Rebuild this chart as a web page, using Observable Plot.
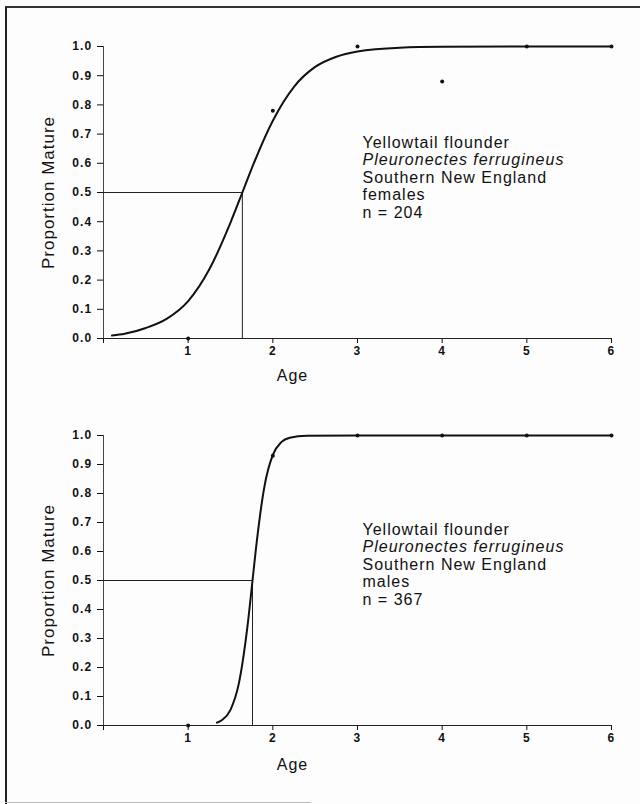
<!DOCTYPE html>
<html>
<head>
<meta charset="utf-8">
<script src="https://cdn.jsdelivr.net/npm/d3@7"></script>
<script src="https://cdn.jsdelivr.net/npm/@observablehq/plot@0.6"></script>
<style>
  html, body { margin: 0; padding: 0; background: #fdfdfd; }
  body { width: 640px; height: 804px; position: relative; overflow: hidden; font-family: "Liberation Sans", Arial, sans-serif; }
  #frame { position: absolute; left: 5px; top: 6px; width: 640px; height: 796px; border-left: 2px solid #222; border-top: 2px solid #333; }
  #bottomline { position: absolute; left: 5px; top: 802px; width: 306px; height: 0; border-top: 1px solid #bbb; }
  #top, #bottom { position: absolute; left: 0; }
  #top { top: 0; }
  #bottom { top: 390px; }
  svg text { letter-spacing: 1px; }
  svg g[aria-label$="tick label"], svg g[aria-label$="tick label"] text { font-size: 12px !important; font-weight: bold; letter-spacing: 1.2px; }
</style>
</head>
<body>
<div id="frame"></div>
<div id="bottomline"></div>
<div id="top"></div>
<div id="bottom"></div>
<script>
// ---- data ----
const ages = [1, 2, 3, 4, 5, 6];
const femaleObserved = [0.0, 0.78, 1.0, 0.88, 1.0, 1.0];
const maleObserved = [0.0, 0.93, 1.0, 1.0, 1.0, 1.0];

const femaleCurveAge = [0.1, 0.25, 0.5, 0.75, 1.0, 1.25, 1.5, 1.64, 1.75, 2.0, 2.25, 2.5, 2.75, 3.0, 3.5, 4.0, 5.0, 6.0];
const femaleCurveP   = [0.010, 0.016, 0.036, 0.068, 0.128, 0.237, 0.397, 0.5, 0.582, 0.746, 0.862, 0.930, 0.965, 0.983, 0.996, 0.999, 1.0, 1.0];

const maleCurveAge = [1.34, 1.4, 1.5, 1.6, 1.7, 1.76, 1.8, 1.9, 2.0, 2.1, 2.2, 2.4, 3.0, 4.0, 5.0, 6.0];
const maleCurveP   = [0.010, 0.019, 0.054, 0.147, 0.341, 0.5, 0.608, 0.823, 0.933, 0.977, 0.992, 0.999, 1.0, 1.0, 1.0, 1.0];

const femaleA50 = 1.64;
const maleA50 = 1.76;

const xTicks = [0, 1, 2, 3, 4, 5, 6];
const yTicks = [0, 0.1, 0.2, 0.3, 0.4, 0.5, 0.6, 0.7, 0.8, 0.9, 1.0];
const xLabel = "Age";
const yLabel = "Proportion Mature";

const femaleNote = ["Yellowtail flounder", "Pleuronectes ferrugineus", "Southern New England", "females", "n = 204"];
const maleNote   = ["Yellowtail flounder", "Pleuronectes ferrugineus", "Southern New England", "males", "n = 367"];
const noteItalic = [false, true, false, false, false];

// ---- chart builder ----
function makeChart({observed, curveAge, curveP, a50, note, height, marginTop, marginBottom, noteDy, ageDy}) {
  const obs = ages.map((a, i) => ({age: a, p: observed[i]}));
  const curve = curveAge.map((a, i) => ({age: a, p: curveP[i]}));
  const noteMarks = note.map((line, i) =>
    Plot.text([line], {
      text: d => d,
      frameAnchor: "top-left",
      dx: 259,
      dy: noteDy + i * 17.5,
      lineAnchor: "middle",
      textAnchor: "start",
      fontSize: 16,
      fontStyle: noteItalic[i] ? "italic" : "normal",
      fill: "#111"
    })
  );
  return Plot.plot({
    width: 640,
    height,
    marginLeft: 103,
    marginRight: 29,
    marginTop,
    marginBottom,
    style: {fontFamily: "'Liberation Sans', Arial, sans-serif", fontSize: "12px", color: "#111", background: "transparent", overflow: "visible"},
    x: {domain: [0, 6]},
    y: {domain: [0, 1]},
    marks: [
      Plot.axisX({ticks: xTicks, tickSize: 5, tickPadding: 3, tickFormat: d => d === 0 ? "" : d, label: null, fontWeight: "bold", fontSize: 12}),
      Plot.axisY({ticks: yTicks, tickSize: 6, tickPadding: 5, tickFormat: d3.format(".1f"), label: null, fontWeight: "bold", fontSize: 12}),
      Plot.ruleY([0], {stroke: "#222", strokeWidth: 1}),
      Plot.ruleX([0], {stroke: "#444", strokeWidth: 1}),
      Plot.ruleY([0.5], {x1: 0, x2: a50, stroke: "#222", strokeWidth: 1}),
      Plot.ruleX([a50], {y1: 0, y2: 0.5, stroke: "#222", strokeWidth: 1}),
      Plot.line(curve, {x: "age", y: "p", curve: "monotone-x", stroke: "#111", strokeWidth: 2}),
      Plot.dot(obs, {x: "age", y: "p", r: 2, fill: "#111", stroke: null}),
      ...noteMarks,
      Plot.text([xLabel], {text: d => d, frameAnchor: "bottom-left", dx: 189, dy: ageDy, lineAnchor: "middle", textAnchor: "middle", fontSize: 16, fill: "#111"}),
      Plot.text([yLabel], {text: d => d, frameAnchor: "left", dx: -55, rotate: -90, lineAnchor: "middle", textAnchor: "middle", fontSize: 17, fill: "#111"})
    ]
  });
}

document.getElementById("top").append(makeChart({
  observed: femaleObserved, curveAge: femaleCurveAge, curveP: femaleCurveP, a50: femaleA50,
  note: femaleNote, height: 380, marginTop: 46, marginBottom: 42, noteDy: 96, ageDy: 37
}));
document.getElementById("bottom").append(makeChart({
  observed: maleObserved, curveAge: maleCurveAge, curveP: maleCurveP, a50: maleA50,
  note: maleNote, height: 375, marginTop: 45, marginBottom: 40, noteDy: 94, ageDy: 39
}));
</script>
</body>
</html>
